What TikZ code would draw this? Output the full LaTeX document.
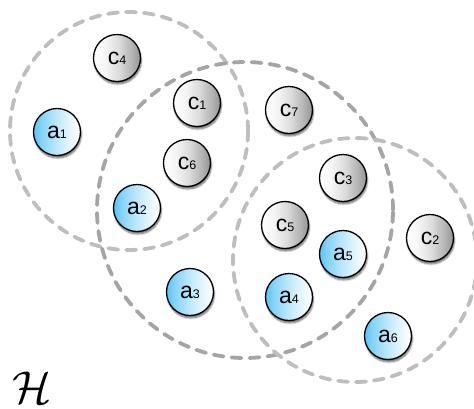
\documentclass[tikz,border=0pt]{standalone}
\usepackage{fontspec}
\setsansfont{Liberation Sans}
\usetikzlibrary{shadows.blur}

% element label: large letter followed by a smaller index on the same baseline
\newcommand{\elemlabel}[2]{\sffamily\fontsize{23}{23}\selectfont #1\fontsize{12.5}{12.5}\selectfont #2}

\definecolor{hullgray}{RGB}{190,190,190}
\definecolor{hulldark}{RGB}{165,165,165}
\definecolor{agentblue}{RGB}{88,196,246}

% horizontal shadings for the two kinds of elements (visible band is 25bp..75bp)
\pgfdeclarehorizontalshading{greyball}{100bp}{
  color(0bp)=(white); color(25bp)=(white); color(38bp)=(white!96!black);
  color(52bp)=(white!86!black); color(66bp)=(white!70!black);
  color(75bp)=(white!58!black); color(100bp)=(white!58!black)}
\pgfdeclarehorizontalshading{blueball}{100bp}{
  color(0bp)=(agentblue); color(25bp)=(agentblue); color(34bp)=(agentblue!72!white);
  color(48bp)=(agentblue!42!white); color(63bp)=(agentblue!16!white);
  color(75bp)=(white); color(100bp)=(white)}

\begin{document}
\begin{tikzpicture}[x=1pt,y=-1pt,
  hull/.style={draw=hullgray, line width=3.8pt, dash pattern=on 10pt off 8pt, line cap=round},
  hullmid/.style={hull, draw=hulldark},
  element/.style={circle, draw=black, line width=1.3pt, minimum size=47pt, inner sep=0pt,
    blur shadow={shadow xshift=0.8pt, shadow yshift=-2.5pt, shadow blur steps=6, shadow opacity=60}},
  cnode/.style={element, shading=greyball},
  anode/.style={element, shading=blueball}]

\useasboundingbox (0,0) rectangle (474,408);

% the three dashed groups
\draw[hull]    (129,131) circle [radius=119pt];
\draw[hullmid] (245,210) circle [radius=148pt];
\draw[hull]    (355,260) circle [radius=122pt];

% c elements
\node[cnode] (c4) at (117,58)  {\elemlabel{c}{4}};
\node[cnode] (c1) at (197,103) {\elemlabel{c}{1}};
\node[cnode] (c6) at (187,163) {\elemlabel{c}{6}};
\node[cnode] (c7) at (289,110) {\elemlabel{c}{7}};
\node[cnode] (c3) at (343,178) {\elemlabel{c}{3}};
\node[cnode] (c5) at (285,225) {\elemlabel{c}{5}};
\node[cnode] (c2) at (430,238) {\elemlabel{c}{2}};

% a elements
\node[anode] (a1) at (57,132)  {\elemlabel{a}{1}};
\node[anode] (a2) at (137,208) {\elemlabel{a}{2}};
\node[anode] (a5) at (343,254) {\elemlabel{a}{5}};
\node[anode] (a3) at (190,292) {\elemlabel{a}{3}};
\node[anode] (a4) at (289,297) {\elemlabel{a}{4}};
\node[anode] (a6) at (388,336) {\elemlabel{a}{6}};

% hypergraph symbol
\node[scale=4.6, inner sep=0pt] (hsym) at (32,388) {$\mathcal{H}$};
\end{tikzpicture}
\end{document}
